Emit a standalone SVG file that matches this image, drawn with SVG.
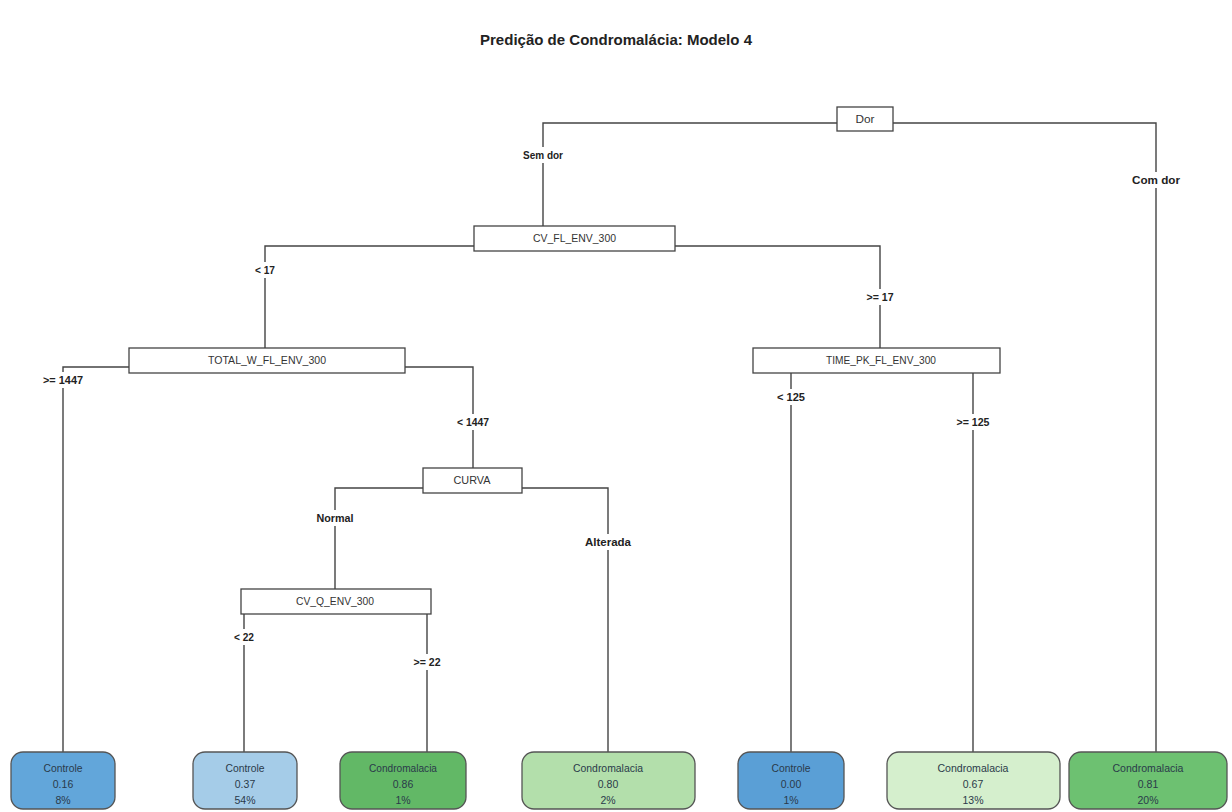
<svg xmlns="http://www.w3.org/2000/svg" width="1232" height="812" viewBox="0 0 1232 812">
<style>
.bg{fill:#ffffff}
.title{font-family:"Liberation Sans",Arial,sans-serif;font-weight:bold;font-size:14px;fill:#222;text-anchor:middle}
.split rect{fill:#ffffff;stroke:#444;stroke-width:1.3}
.split text{font-family:"Liberation Sans",Arial,sans-serif;font-size:10.5px;fill:#333;text-anchor:middle}
.leaf rect{stroke:#555;stroke-width:1.3}
.leaf text{font-family:"Liberation Sans",Arial,sans-serif;font-size:10.5px;fill:#2a3a4a;text-anchor:middle}
.conn path{fill:none;stroke:#444;stroke-width:1.4}
.lbl rect{fill:#ffffff}
.lbl text{font-family:"Liberation Sans",Arial,sans-serif;font-weight:bold;font-size:11px;fill:#222;text-anchor:middle}
</style>
<rect class="bg" x="0" y="0" width="1232" height="812"/>
<text class="title" x="616" y="45" textLength="272" lengthAdjust="spacingAndGlyphs">Predição de Condromalácia: Modelo 4</text>

<g id="connectors" class="conn">
<path d="M837,123 H543 V226"/>
<path d="M893,123 H1156 V752"/>
<path d="M474,246 H265 V348"/>
<path d="M675,246 H880 V348"/>
<path d="M129,367 H63 V752"/>
<path d="M405,367 H473 V468"/>
<path d="M791,373 V752"/>
<path d="M973,373 V752"/>
<path d="M423,488 H335 V589"/>
<path d="M522,488 H608 V752"/>
<path d="M244,614 V752"/>
<path d="M427,614 V752"/>
<g class="lbl">
<rect x="520" y="147" width="46" height="16"/><text x="543" y="159" textLength="40" lengthAdjust="spacingAndGlyphs">Sem dor</text>
<rect x="1130" y="172" width="52" height="16"/><text x="1156" y="184" textLength="48" lengthAdjust="spacingAndGlyphs">Com dor</text>
<rect x="252" y="262" width="26" height="16"/><text x="265" y="274" textLength="20" lengthAdjust="spacingAndGlyphs">&lt; 17</text>
<rect x="864" y="289" width="32" height="16"/><text x="880" y="301" textLength="27" lengthAdjust="spacingAndGlyphs">&gt;= 17</text>
<rect x="41" y="372" width="44" height="16"/><text x="63" y="384" textLength="40" lengthAdjust="spacingAndGlyphs">&gt;= 1447</text>
<rect x="455" y="414" width="36" height="16"/><text x="473" y="426" textLength="32" lengthAdjust="spacingAndGlyphs">&lt; 1447</text>
<rect x="775" y="389" width="32" height="16"/><text x="791" y="401" textLength="28" lengthAdjust="spacingAndGlyphs">&lt; 125</text>
<rect x="954" y="414" width="38" height="16"/><text x="973" y="426" textLength="33" lengthAdjust="spacingAndGlyphs">&gt;= 125</text>
<rect x="314" y="510" width="42" height="16"/><text x="335" y="522" textLength="37" lengthAdjust="spacingAndGlyphs">Normal</text>
<rect x="583" y="534" width="50" height="16"/><text x="608" y="546" textLength="46" lengthAdjust="spacingAndGlyphs">Alterada</text>
<rect x="232" y="629" width="24" height="16"/><text x="244" y="641" textLength="20" lengthAdjust="spacingAndGlyphs">&lt; 22</text>
<rect x="411" y="654" width="32" height="16"/><text x="427" y="666" textLength="27" lengthAdjust="spacingAndGlyphs">&gt;= 22</text>
</g>
</g>

<g id="node-dor" class="split"><rect x="837" y="107" width="56" height="24"/><text x="865" y="123" textLength="19" lengthAdjust="spacingAndGlyphs">Dor</text></g>
<g id="node-cv-fl" class="split"><rect x="474" y="226" width="201" height="25"/><text x="574.5" y="242" textLength="83" lengthAdjust="spacingAndGlyphs">CV_FL_ENV_300</text></g>
<g id="node-total-w" class="split"><rect x="129" y="348" width="276" height="25"/><text x="267" y="364" textLength="118" lengthAdjust="spacingAndGlyphs">TOTAL_W_FL_ENV_300</text></g>
<g id="node-time-pk" class="split"><rect x="753" y="348" width="247" height="25"/><text x="881" y="364" textLength="110" lengthAdjust="spacingAndGlyphs">TIME_PK_FL_ENV_300</text></g>
<g id="node-curva" class="split"><rect x="423" y="468" width="99" height="25"/><text x="472" y="484" textLength="37" lengthAdjust="spacingAndGlyphs">CURVA</text></g>
<g id="node-cv-q" class="split"><rect x="241" y="589" width="190" height="25"/><text x="335" y="605" textLength="78" lengthAdjust="spacingAndGlyphs">CV_Q_ENV_300</text></g>

<g id="leaf-1" class="leaf"><rect x="11" y="752" width="104" height="57" rx="12" fill="#62a6da"/>
<text x="63" y="772" textLength="39" lengthAdjust="spacingAndGlyphs">Controle</text><text x="63" y="788">0.16</text><text x="63" y="804">8%</text></g>
<g id="leaf-2" class="leaf"><rect x="193" y="752" width="104" height="57" rx="12" fill="#a5cce8"/>
<text x="245" y="772" textLength="39" lengthAdjust="spacingAndGlyphs">Controle</text><text x="245" y="788">0.37</text><text x="245" y="804">54%</text></g>
<g id="leaf-3" class="leaf"><rect x="340" y="752" width="126" height="57" rx="12" fill="#62b866"/>
<text x="403" y="772" textLength="68" lengthAdjust="spacingAndGlyphs">Condromalacia</text><text x="403" y="788">0.86</text><text x="403" y="804">1%</text></g>
<g id="leaf-4" class="leaf"><rect x="522" y="752" width="173" height="57" rx="12" fill="#b3dfab"/>
<text x="608" y="772" textLength="70" lengthAdjust="spacingAndGlyphs">Condromalacia</text><text x="608" y="788">0.80</text><text x="608" y="804">2%</text></g>
<g id="leaf-5" class="leaf"><rect x="738" y="752" width="106" height="57" rx="12" fill="#5a9fd6"/>
<text x="791" y="772" textLength="39" lengthAdjust="spacingAndGlyphs">Controle</text><text x="791" y="788">0.00</text><text x="791" y="804">1%</text></g>
<g id="leaf-6" class="leaf"><rect x="887" y="752" width="173" height="57" rx="12" fill="#d5efcd"/>
<text x="973" y="772" textLength="71" lengthAdjust="spacingAndGlyphs">Condromalacia</text><text x="973" y="788">0.67</text><text x="973" y="804">13%</text></g>
<g id="leaf-7" class="leaf"><rect x="1069" y="752" width="158" height="57" rx="12" fill="#6dc171"/>
<text x="1148" y="772" textLength="71" lengthAdjust="spacingAndGlyphs">Condromalacia</text><text x="1148" y="788">0.81</text><text x="1148" y="804">20%</text></g>
</svg>
